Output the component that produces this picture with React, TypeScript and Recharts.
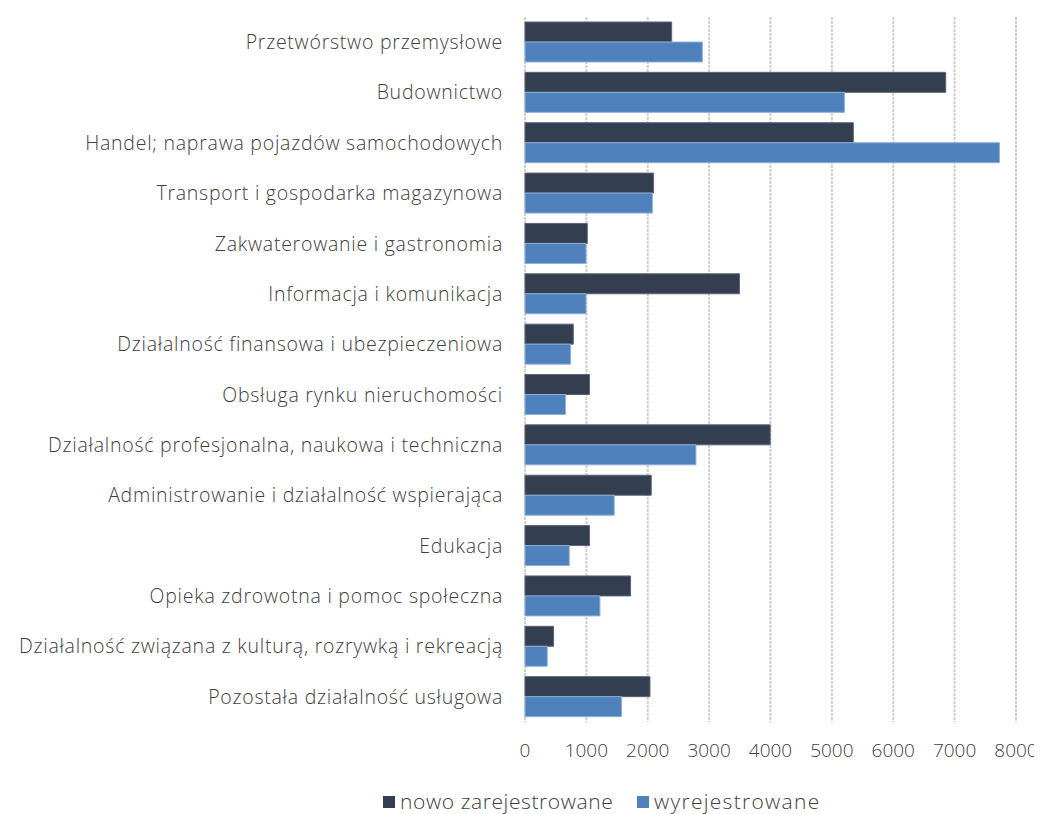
import React from 'react';
import { BarChart, Bar, XAxis, YAxis, CartesianGrid, Legend } from 'recharts';

const categories = [
  'Przetwórstwo przemysłowe',
  'Budownictwo',
  'Handel; naprawa pojazdów samochodowych',
  'Transport i gospodarka magazynowa',
  'Zakwaterowanie i gastronomia',
  'Informacja i komunikacja',
  'Działalność finansowa i ubezpieczeniowa',
  'Obsługa rynku nieruchomości',
  'Działalność profesjonalna, naukowa i techniczna',
  'Administrowanie i działalność wspierająca',
  'Edukacja',
  'Opieka zdrowotna i pomoc społeczna',
  'Działalność związana z kulturą, rozrywką i rekreacją',
  'Pozostała działalność usługowa',
];

const nowoZarejestrowane = [2390, 6855, 5350, 2095, 1015, 3495, 787, 1052, 3995, 2057, 1052, 1720, 466, 2036];
const wyrejestrowane = [2890, 5205, 7730, 2075, 995, 995, 743, 661, 2785, 1454, 721, 1221, 363, 1573];

const xTicks = [0, 1000, 2000, 3000, 4000, 5000, 6000, 7000, 8000];

const seriesNames = ['nowo zarejestrowane', 'wyrejestrowane'];
const seriesColors = ['#333f50', '#4f81bd'];
const seriesStrokes = ['#5c6675', '#8fb0d8'];

const data = categories.map((name, i) => ({
  name,
  nowo: nowoZarejestrowane[i],
  wyrej: wyrejestrowane[i],
}));

const FONT = '"Open Sans", sans-serif';
const TEXT = '#404040';
const FS = 19.5;
const LS = 0.75;

const LegendContent = () => (
  <div style={{ display: 'flex', justifyContent: 'flex-start', fontFamily: FONT, fontSize: 21, fontWeight: 300, color: TEXT, lineHeight: '25px', position: 'relative', height: 25 }}>
    {seriesNames.map((n, i) => (
      <div key={n} style={{ display: 'flex', alignItems: 'center', position: 'absolute', left: i === 0 ? 375 : 629, top: 0, letterSpacing: i === 0 ? 0.6 : 1.3 }}>
        <span style={{ display: 'inline-block', width: 12, height: 12, background: seriesColors[i], marginRight: 5 }} />
        <span>{n}</span>
      </div>
    ))}
  </div>
);

export default function App() {
  return (
    <div style={{ width: 1034, height: 806, background: '#fff' }}>
      <BarChart
        width={1034}
        height={806}
        data={data}
        layout="vertical"
        margin={{ top: 9, right: 26, left: 0, bottom: 0 }}
        barGap={0}
        barCategoryGap={5}
      >
        <CartesianGrid horizontal={false} stroke="#cfcfcf" strokeWidth={2} strokeDasharray="3 1" />
        <XAxis
          type="number"
          domain={[0, 8000]}
          ticks={xTicks}
          axisLine={false}
          tickLine={false}
          tickSize={0}
          tickMargin={22}
          height={67}
          tick={{ fill: TEXT, fontSize: 19, fontFamily: FONT, fontWeight: 300 }}
        />
        <YAxis
          type="category"
          dataKey="name"
          width={517}
          axisLine={false}
          tickLine={false}
          tickSize={0}
          tickMargin={22}
          interval={0}
          tick={{ fill: TEXT, fontSize: FS, fontFamily: FONT, fontWeight: 300, letterSpacing: LS }}
        />
        <Legend verticalAlign="bottom" height={25} content={<LegendContent />} />
        <Bar dataKey="nowo" name={seriesNames[0]} fill={seriesColors[0]} stroke={seriesStrokes[0]} strokeWidth={1} isAnimationActive={false} />
        <Bar dataKey="wyrej" name={seriesNames[1]} fill={seriesColors[1]} stroke={seriesStrokes[1]} strokeWidth={1} isAnimationActive={false} />
      </BarChart>
    </div>
  );
}
